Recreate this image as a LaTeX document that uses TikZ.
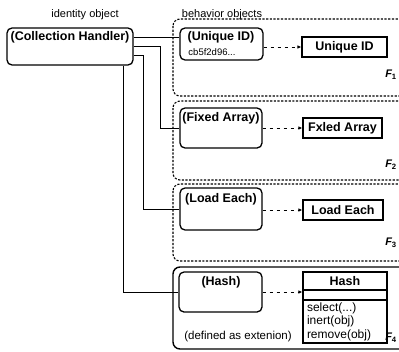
\documentclass[tikz,border=0pt]{standalone}
\usepackage{fontspec}
\setmainfont{Liberation Sans}
\usetikzlibrary{arrows.meta}

\begin{document}
\begin{tikzpicture}[x=1pt,y=-1pt,
  objbox/.style={draw,line width=1.3pt,rounded corners=5pt,inner sep=0pt},
  clsbox/.style={draw,line width=1.1pt,inner sep=0pt},
  area/.style={draw,line width=1.1pt,dash pattern=on 2.2pt off 1.5pt,rounded corners=7pt},
  extarea/.style={draw,line width=1.4pt,rounded corners=7pt},
  link/.style={draw,line width=0.9pt},
  flow/.style={draw,line width=1pt,dash pattern=on 3pt off 4pt,-{Latex[length=4pt,width=3.5pt]}},
  head/.style={font=\fontsize{12.5}{14}\selectfont\bfseries,inner sep=0pt},
  note/.style={font=\fontsize{11}{13}\selectfont,inner sep=0pt},
  flab/.style={font=\fontsize{11}{12}\selectfont\bfseries\itshape,inner sep=0pt}]
\useasboundingbox (0,0) rectangle (399,351);
            % Facets
\draw[area]    (173,19 ) rectangle (420,96 );
\draw[area]    (173,101) rectangle (420,180);
\draw[area]    (173,184) rectangle (420,261);
\draw[extarea] (173,267) rectangle (420,349);
\node[flab] (f1) at (391,75 ) {F\textsubscript{\upshape 1}};
\node[flab] (f2) at (391,165) {F\textsubscript{\upshape 2}};
\node[flab] (f3) at (391,243) {F\textsubscript{\upshape 3}};
\node[flab] (f4) at (391,338) {F\textsubscript{\upshape 4}};
%Headings
\node[note] (idlab)  at (85 ,15) {identity object};
\node[note] (behlab) at (222,15) {behavior objects};
%Identity object
\node[objbox,minimum width=126pt,minimum height=37pt] (handler) at (70,46.5) {};
\node[head] (handlertxt) at (70,37) {(Collection Handler)};
%Behavior objects
\node[objbox,minimum width=83pt,minimum height=32pt] (uidobj)  at (221.5,44 ) {};
\node[objbox,minimum width=82pt,minimum height=40pt] (fixobj)  at (221  ,128) {};
\node[objbox,minimum width=82pt,minimum height=42pt] (loadobj) at (221  ,209) {};
\node[objbox,minimum width=83pt,minimum height=40pt] (hashobj) at (220.5,292) {};
\node[head] (uidtxt)  at (221,37 ) {(Unique ID)};
\node[note,font=\fontsize{9.5}{11}\selectfont] (uidval) at (212,52) {cb5f2d96...};
\node[head] (fixtxt)  at (221,118) {(Fixed Array)};
\node[head] (loadtxt) at (221,199) {(Load Each)};
\node[head] (hashtxt) at (221,282) {(Hash)};
\node[note,font=\fontsize{11.5}{13}\selectfont] (defnote) at (238,337) {(defined as extenion)};
%Classes
\node[clsbox,head,minimum width=85pt,minimum height=20pt] (uidcls)  at (344.5,47 ) {Unique ID};
\node[clsbox,head,minimum width=79pt,minimum height=20pt] (fixcls)  at (342.5,128) {Fxled Array};
\node[clsbox,head,minimum width=80pt,minimum height=20pt] (loadcls) at (343  ,210) {Load Each};
\node[clsbox,head,minimum width=84pt,minimum height=18pt] (hashname) at (345,281) {Hash};
\node[clsbox,minimum width=84pt,minimum height=10pt] (hashattr) at (345,295) {};
\node[clsbox,minimum width=84pt,minimum height=43pt,text width=76pt,align=left,
      font=\fontsize{12}{13.5}\selectfont] (hashops) at (345,321.5) {select(...)\\inert(obj)\\remove(obj)};
%Links
\draw[link] (handler.east |- handlertxt) -- (uidobj.west |- handlertxt);
\draw[link] (handler.east) -- ++(27,0) |- (fixobj.west);
\draw[link] ([yshift=-8.5pt]handler.east) -- ++(10,0) |- (loadobj.west);
\draw[link] ([xshift=53pt]handler.south) |- (hashobj.west);
%Instance of
\draw[flow] (uidobj.east |- uidcls) -- (uidcls.west);
\draw[flow] (fixobj.east) -- (fixcls.west);
\draw[flow] (loadobj.east |- loadcls) -- (loadcls.west);
\draw[flow] (hashobj.east) -- (hashobj.east -| hashname.west);
\end{tikzpicture}
\end{document}
